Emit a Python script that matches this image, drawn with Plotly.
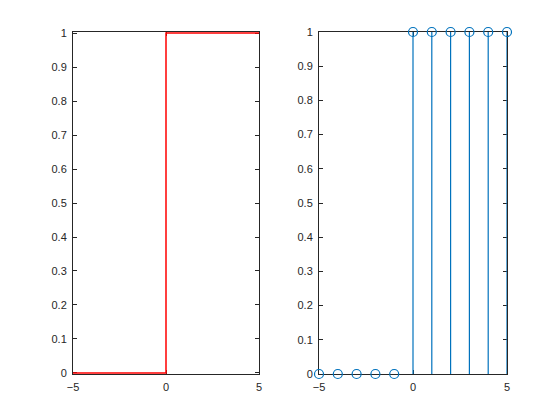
import plotly.graph_objects as go

# Left: continuous unit step
t = [-5, 0, 0, 5]
u_cont = [0, 0, 1, 1]

# Right: discrete unit step
n = [-5, -4, -3, -2, -1, 0, 1, 2, 3, 4, 5]
u_disc = [0, 0, 0, 0, 0, 1, 1, 1, 1, 1, 1]

x_ticks = [-5, 0, 5]
y_ticks = [0, 0.1, 0.2, 0.3, 0.4, 0.5, 0.6, 0.7, 0.8, 0.9, 1]
y_ticklabels = ["0", "0.1", "0.2", "0.3", "0.4", "0.5", "0.6", "0.7", "0.8", "0.9", "1"]

blue = "#0072BD"

fig = go.Figure()

fig.add_trace(go.Scatter(x=t, y=u_cont, mode="lines",
                         line=dict(color="#FF0000", width=1.5),
                         xaxis="x", yaxis="y", showlegend=False, cliponaxis=False))

# stems
sx, sy = [], []
for xi, yi in zip(n, u_disc):
    sx += [xi, xi, None]
    sy += [0, yi, None]
fig.add_trace(go.Scatter(x=sx, y=sy, mode="lines",
                         line=dict(color=blue, width=1.2),
                         xaxis="x2", yaxis="y2", showlegend=False, cliponaxis=False))
fig.add_trace(go.Scatter(x=n, y=u_disc, mode="markers",
                         marker=dict(symbol="circle-open", size=9, color=blue,
                                     line=dict(width=1.2, color=blue)),
                         xaxis="x2", yaxis="y2", showlegend=False, cliponaxis=False))

ax_common = dict(showline=True, linecolor="#262626", linewidth=1, mirror="ticks",
                 ticks="inside", ticklen=4, tickcolor="#262626", showgrid=False,
                 zeroline=False, layer="below traces", automargin=False,
                 tickfont=dict(family="Liberation Sans, Arial", size=11, color="#262626"))

# page body has an 8px margin: shift domains to compensate
off = 8
xl = [(73 - off) / 560, (259 - off) / 560]
xr = [(319 - off) / 560, (507 - off) / 560]
yd = [1 - (374 - off) / 420, 1 - (32 - off) / 420]

fig.update_layout(
    width=560, height=420,
    margin=dict(l=0, r=0, t=0, b=0),
    paper_bgcolor="white", plot_bgcolor="white",
    xaxis=dict(domain=xl, range=[-5, 5], tickvals=x_ticks, ticklabelstandoff=3,
               anchor="y", **ax_common),
    yaxis=dict(domain=yd, range=[-0.003, 1.003], tickvals=y_ticks, ticklabelstandoff=3,
               ticktext=y_ticklabels, anchor="x", **ax_common),
    xaxis2=dict(domain=xr, range=[-5, 5], tickvals=x_ticks, ticklabelstandoff=3,
                anchor="y2", **ax_common),
    yaxis2=dict(domain=yd, range=[0, 1], tickvals=y_ticks, ticklabelstandoff=3,
                ticktext=y_ticklabels, anchor="x2", **ax_common),
)

fig.write_html("out.html")
